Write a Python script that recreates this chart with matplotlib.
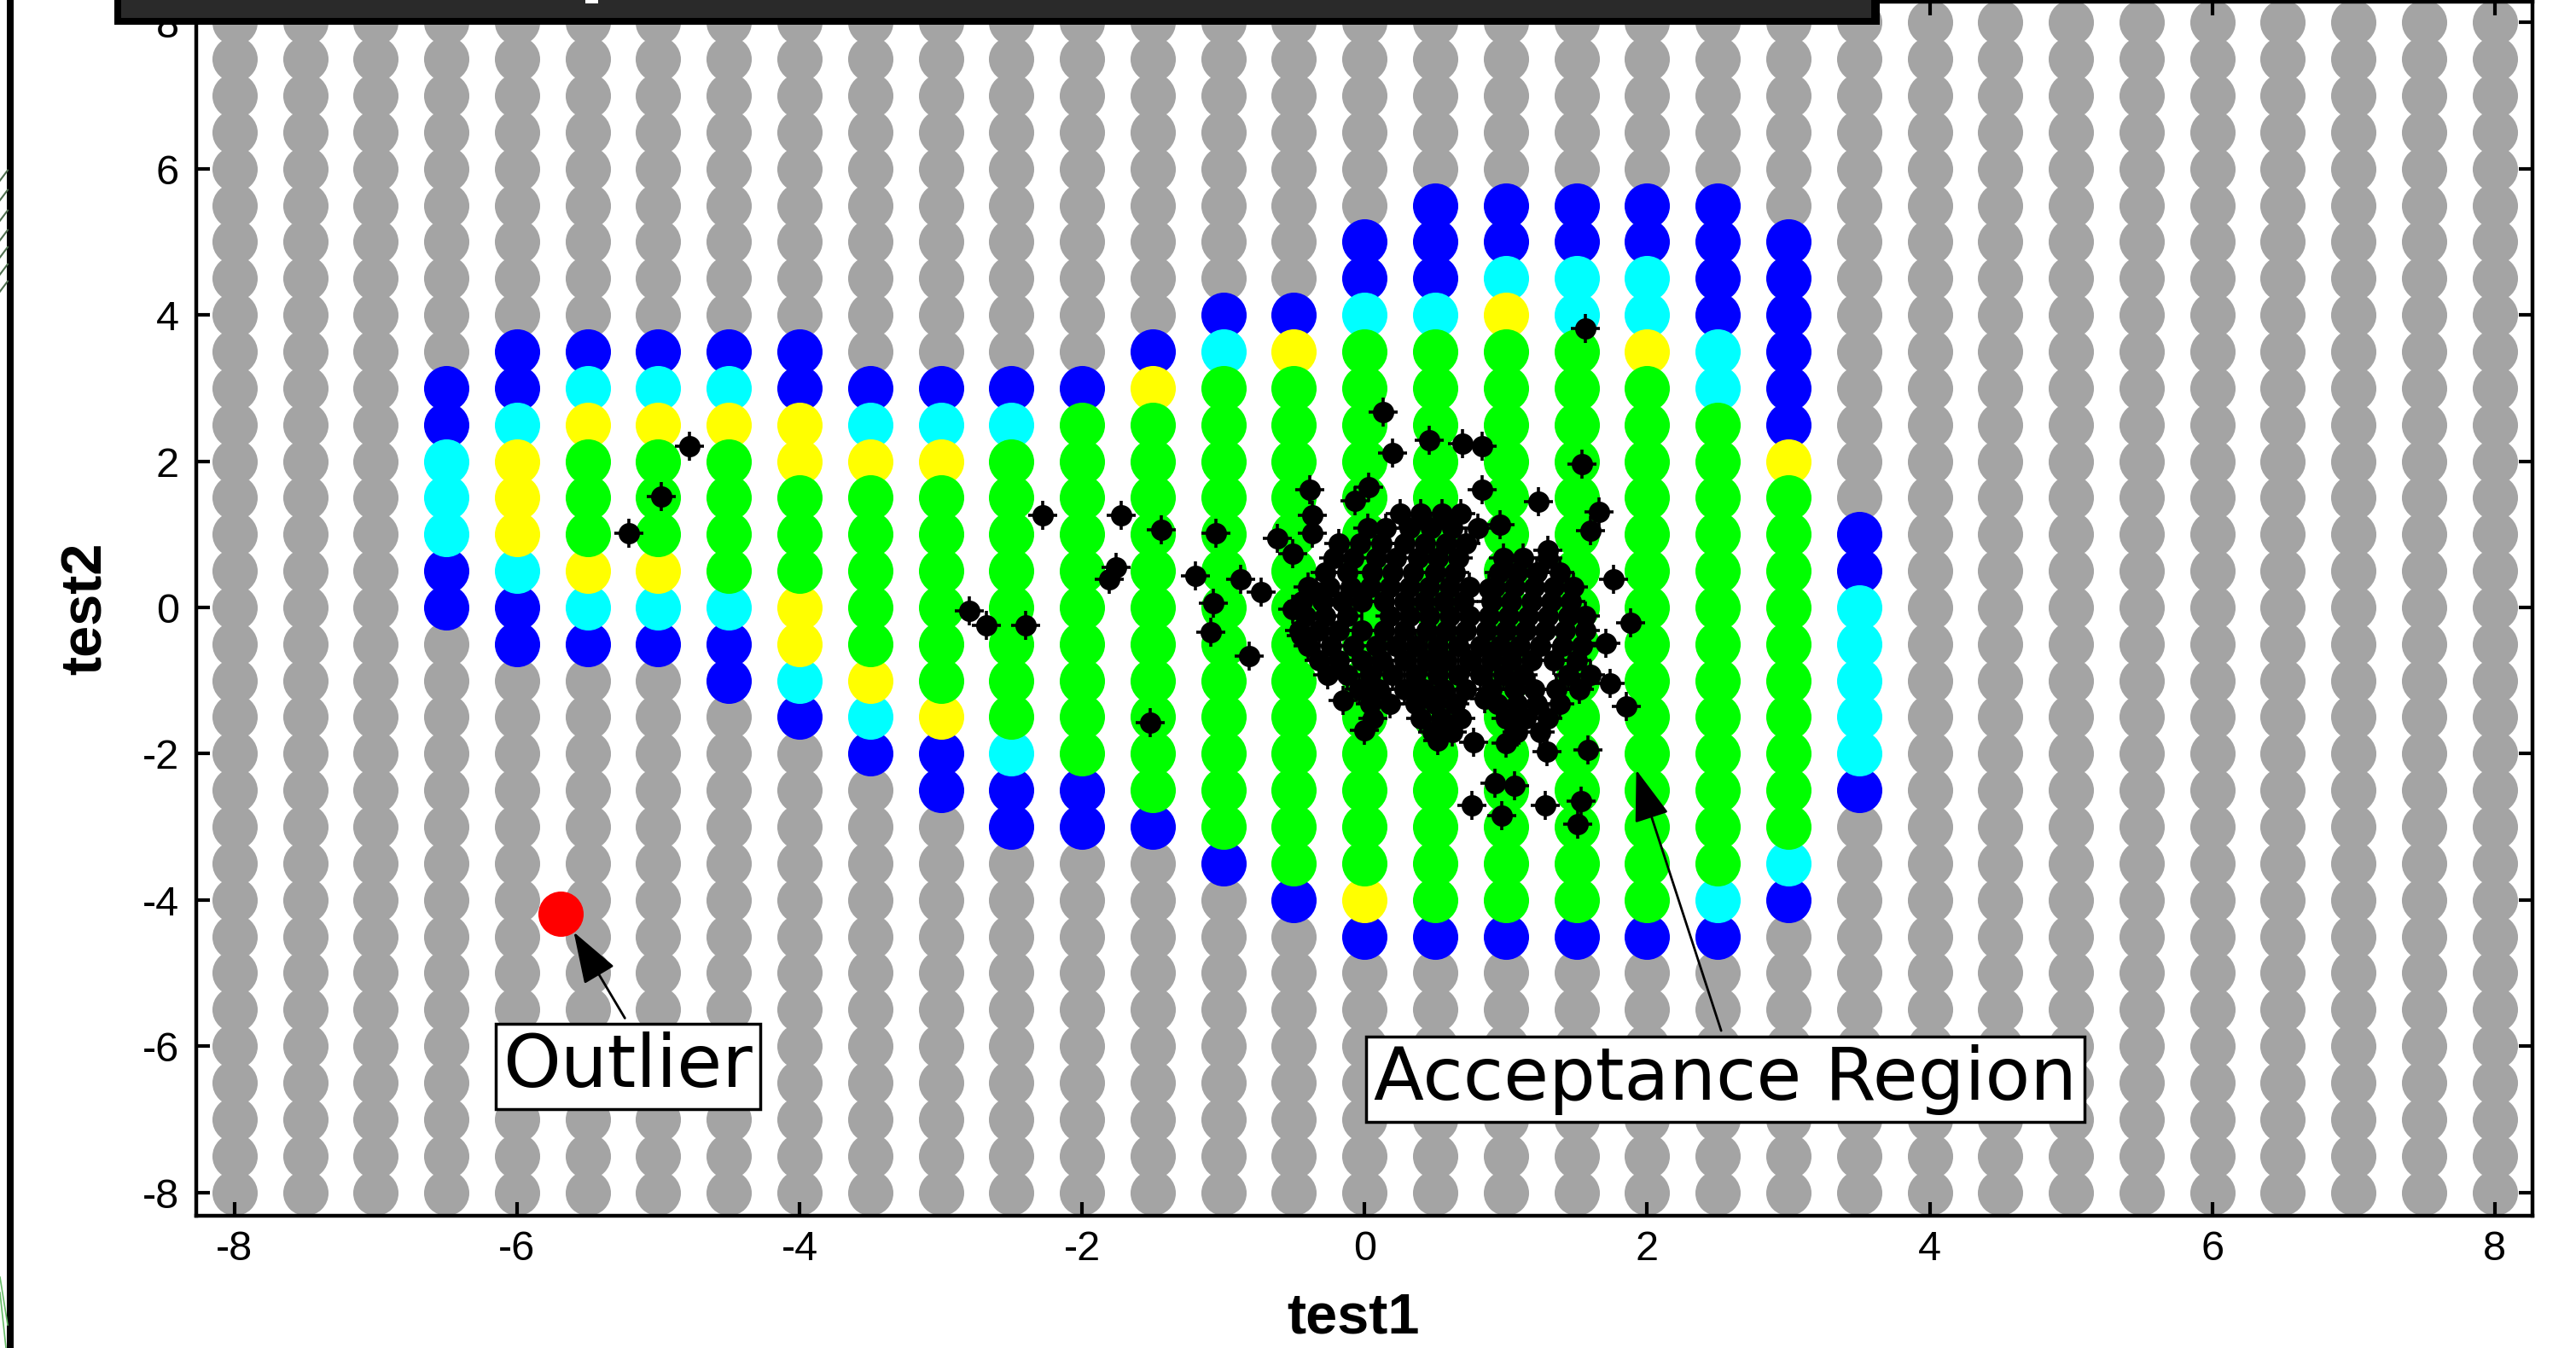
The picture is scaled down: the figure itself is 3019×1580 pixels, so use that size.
import numpy as np
import matplotlib.pyplot as plt
from matplotlib.patches import Rectangle
from matplotlib.lines import Line2D

plt.rcParams['font.family'] = ['Liberation Sans', 'DejaVu Sans']
plt.rcParams['axes.unicode_minus'] = False

# evaluation grid (test1 x test2)
grid_x = [-8.0, -7.5, -7.0, -6.5, -6.0, -5.5, -5.0, -4.5, -4.0, -3.5, -3.0, -2.5, -2.0, -1.5, -1.0, -0.5,
          0.0, 0.5, 1.0, 1.5, 2.0, 2.5, 3.0, 3.5, 4.0, 4.5, 5.0, 5.5, 6.0, 6.5, 7.0, 7.5, 8.0]
grid_y = [-8.0, -7.5, -7.0, -6.5, -6.0, -5.5, -5.0, -4.5, -4.0, -3.5, -3.0, -2.5, -2.0, -1.5, -1.0, -0.5,
          0.0, 0.5, 1.0, 1.5, 2.0, 2.5, 3.0, 3.5, 4.0, 4.5, 5.0, 5.5, 6.0, 6.5, 7.0, 7.5, 8.0]

# classified columns: x, top y, runs of classes going down in steps of 0.5
# B = blue, C = cyan, Y = yellow, G = green
col_x = [-6.5, -6.0, -5.5, -5.0, -4.5, -4.0, -3.5, -3.0, -2.5, -2.0, -1.5,
         -1.0, -0.5, 0.0, 0.5, 1.0, 1.5, 2.0, 2.5, 3.0, 3.5]
col_top = [3.0, 3.5, 3.5, 3.5, 3.5, 3.5, 3.0, 3.0, 3.0, 3.0, 3.5,
           4.0, 4.0, 5.0, 5.5, 5.5, 5.5, 5.5, 5.5, 5.0, 1.0]
col_runs = [
    [('B', 2), ('C', 3), ('B', 2)],
    [('B', 2), ('C', 1), ('Y', 3), ('C', 1), ('B', 2)],
    [('B', 1), ('C', 1), ('Y', 1), ('G', 3), ('Y', 1), ('C', 1), ('B', 1)],
    [('B', 1), ('C', 1), ('Y', 1), ('G', 3), ('Y', 1), ('C', 1), ('B', 1)],
    [('B', 1), ('C', 1), ('Y', 1), ('G', 4), ('C', 1), ('B', 2)],
    [('B', 2), ('Y', 2), ('G', 3), ('Y', 2), ('C', 1), ('B', 1)],
    [('B', 1), ('C', 1), ('Y', 1), ('G', 5), ('Y', 1), ('C', 1), ('B', 1)],
    [('B', 1), ('C', 1), ('Y', 1), ('G', 6), ('Y', 1), ('B', 2)],
    [('B', 1), ('C', 1), ('G', 8), ('C', 1), ('B', 2)],
    [('B', 1), ('G', 10), ('B', 2)],
    [('B', 1), ('Y', 1), ('G', 11), ('B', 1)],
    [('B', 1), ('C', 1), ('G', 13), ('B', 1)],
    [('B', 1), ('Y', 1), ('G', 14), ('B', 1)],
    [('B', 2), ('C', 1), ('G', 15), ('Y', 1), ('B', 1)],
    [('B', 3), ('C', 1), ('G', 16), ('B', 1)],
    [('B', 2), ('C', 1), ('Y', 1), ('G', 16), ('B', 1)],
    [('B', 2), ('C', 2), ('G', 16), ('B', 1)],
    [('B', 2), ('C', 2), ('Y', 1), ('G', 15), ('B', 1)],
    [('B', 4), ('C', 2), ('G', 13), ('C', 1), ('B', 1)],
    [('B', 6), ('Y', 1), ('G', 10), ('C', 1), ('B', 1)],
    [('B', 2), ('C', 5), ('B', 1)],
]
class_colors = {'B': '#0000ff', 'C': '#00ffff', 'Y': '#ffff00', 'G': '#00ff00'}

# training samples (black stars): scattered ones
star_pts = [(-5.21, 1.02), (-4.98, 1.52), (-4.78, 2.20),
            (-2.80, -0.05), (-2.68, -0.25), (-2.40, -0.25), (-2.28, 1.26),
            (-1.81, 0.39), (-1.76, 0.55), (-1.72, 1.26), (-1.44, 1.06), (-1.52, -1.58),
            (-1.20, 0.43), (-1.05, 1.02), (-1.07, 0.06), (-1.09, -0.34), (-0.88, 0.39),
            (-0.82, -0.67), (-0.73, 0.21), (-0.62, 0.94), (-0.51, 0.73), (-0.51, -0.02),
            (-0.45, -0.39), (-0.34, 0.21), (-0.39, 1.61), (-0.37, 1.26), (-0.37, 1.02),
            (-0.07, 1.46), (0.03, 1.64), (0.13, 2.67), (0.20, 2.11), (0.46, 2.29),
            (0.69, 2.24), (0.83, 2.21), (1.54, 1.96), (1.56, 3.81), (0.83, 1.61),
            (1.23, 1.45), (1.66, 1.31), (1.60, 1.05), (0.96, 1.13), (1.30, 0.78), (0.88, 0.26),
            (1.76, 0.39), (1.88, -0.21), (1.71, -0.49), (1.74, -1.04), (1.85, -1.35), (1.58, -1.95),
            (-0.15, -1.27), (0.0, -1.68), (0.52, -1.82), (0.77, -1.84), (1.00, -1.86),
            (1.29, -1.97), (0.85, -1.25), (0.92, -2.40), (1.06, -2.44), (0.76, -2.71),
            (0.97, -2.85), (1.28, -2.71), (1.53, -2.65), (1.51, -2.96)]

# dense core of the samples, row by row
core_y = [1.28, 1.08, 0.88, 0.68, 0.48, 0.28, 0.08, -0.12, -0.32, -0.52, -0.72, -0.92, -1.12, -1.32, -1.52, -1.70]
core_x = [
    [0.25, 0.40, 0.55, 0.68],
    [0.02, 0.15, 0.32, 0.47, 0.62, 0.80],
    [-0.18, -0.03, 0.12, 0.28, 0.43, 0.58, 0.72],
    [-0.22, -0.08, 0.08, 0.22, 0.38, 0.52, 0.66, 0.98, 1.12, 1.30],
    [-0.28, -0.12, 0.05, 0.20, 0.34, 0.50, 0.64, 0.95, 1.08, 1.22, 1.38],
    [-0.40, -0.25, -0.10, 0.04, 0.18, 0.32, 0.46, 0.60, 0.74, 0.92, 1.06, 1.20, 1.34, 1.48],
    [-0.44, -0.30, -0.16, -0.02, 0.14, 0.28, 0.42, 0.56, 0.70, 0.90, 1.04, 1.18, 1.32, 1.46],
    [-0.42, -0.28, -0.12, 0.18, 0.32, 0.46, 0.60, 0.74, 0.88, 1.02, 1.16, 1.30, 1.44, 1.56],
    [-0.46, -0.32, -0.18, -0.02, 0.14, 0.28, 0.44, 0.58, 0.72, 0.86, 1.00, 1.14, 1.28, 1.42, 1.56],
    [-0.40, -0.24, -0.08, 0.08, 0.22, 0.36, 0.52, 0.66, 0.82, 0.96, 1.10, 1.24, 1.40, 1.54],
    [-0.32, -0.18, -0.02, 0.12, 0.28, 0.44, 0.58, 0.74, 0.90, 1.04, 1.18, 1.34, 1.50],
    [-0.26, -0.12, 0.04, 0.20, 0.36, 0.52, 0.66, 0.82, 0.98, 1.12, 1.44, 1.60],
    [-0.04, 0.10, 0.28, 0.42, 0.56, 0.72, 0.90, 1.06, 1.20, 1.36, 1.52],
    [0.04, 0.18, 0.36, 0.50, 0.64, 0.94, 1.08, 1.22, 1.38],
    [0.06, 0.40, 0.54, 0.68, 1.00, 1.14, 1.30],
    [0.48, 0.62, 1.08, 1.24],
]

outlier = (-5.69, -4.19)

xtick_vals = [-8, -6, -4, -2, 0, 2, 4, 6, 8]
xtick_labels = ['-8', '-6', '-4', '-2', '0', '2', '4', '6', '8']
ytick_vals = [-8, -6, -4, -2, 0, 2, 4, 6, 8]
ytick_labels = ['-8', '-6', '-4', '-2', '0', '2', '4', '6', '8']

W, H = 3019, 1580
fig = plt.figure(figsize=(30.195, 15.805), dpi=100)
ax = fig.add_axes([230 / W, 1 - 1425 / H, 2738 / W, 1423 / H])

# sort grid points into classes
pts = {k: ([], []) for k in 'BCYG'}
taken = set()
for x, top, runs in zip(col_x, col_top, col_runs):
    y = top
    for code, n in runs:
        for _ in range(n):
            pts[code][0].append(x)
            pts[code][1].append(y)
            taken.add((x, y))
            y -= 0.5

gx, gy = [], []
for x in grid_x:
    for y in grid_y:
        if (x, y) not in taken:
            gx.append(x)
            gy.append(y)

ms = 38.2
ax.plot(gx, gy, 'o', ms=ms, color='#a4a4a4', mec='none', zorder=1)
for code in 'BCYG':
    ax.plot(pts[code][0], pts[code][1], 'o', ms=ms, color=class_colors[code], mec='none', zorder=1.2)

ax.plot(outlier[0], outlier[1], 'o', ms=ms, color='#ff0000', mec='none', zorder=1.3)

sx = [p[0] for p in star_pts]
sy = [p[1] for p in star_pts]
for yy, row in zip(core_y, core_x):
    sx.extend(row)
    sy.extend([yy] * len(row))
ax.plot(sx, sy, 'o', ms=18, color='black', mec='none', zorder=1.5)
ax.plot(sx, sy, '+', ms=24, color='black', mew=2.6, zorder=1.5)

# annotations
txt_kw = dict(family='DejaVu Sans', fontsize=62, ha='center', va='center', zorder=4,
              bbox=dict(boxstyle='square,pad=0.1', fc='white', ec='black', lw=2.5))
ax.text(-5.216, -6.28, 'Outlier', **txt_kw)
ax.text(2.553, -6.456, 'Acceptance Region', **txt_kw)

arr = dict(arrowstyle='-|>,head_length=0.38,head_width=0.13', mutation_scale=100,
           lw=2, color='black', shrinkA=0, shrinkB=0)
ax.annotate('', xy=(-5.598, -4.44), xytext=(-5.236, -5.618), arrowprops=arr, zorder=3)
ax.annotate('', xy=(1.923, -2.223), xytext=(2.524, -5.789), arrowprops=arr, zorder=3)

ax.set_xlim(-8.27, 8.27)
ax.set_ylim(-8.32, 8.29)
ax.set_xticks(xtick_vals)
ax.set_xticklabels(xtick_labels)
ax.set_yticks(ytick_vals)
ax.set_yticklabels(ytick_labels)
ax.tick_params(direction='in', length=11.5, width=3, top=True, right=True, labelsize=35)
ax.tick_params(axis='x', pad=12)
ax.tick_params(axis='y', pad=14.4)
for s in ax.spines.values():
    s.set_linewidth(3.2)

ax.set_xlabel('test1', fontsize=48, fontweight='bold')
ax.xaxis.set_label_coords(0.495, -0.0963)
ax.xaxis.label.set_va('baseline')
ax.set_ylabel('test2', fontsize=48, fontweight='bold')
ax.yaxis.set_label_coords(-0.0467, 0.5)
ax.yaxis.label.set_va('center')
ax.yaxis.label.set_ha('center')


def px_rect(x0, y0, x1, y1, color, z=20):
    # rectangle given in image pixels (origin top left)
    fig.add_artist(Rectangle((x0 / W, 1 - y1 / H), (x1 - x0) / W, (y1 - y0) / H,
                             transform=fig.transFigure, fc=color, ec='none', zorder=z))


# cut off title box at the top
px_rect(134, -20, 2203, 29, 'black')
px_rect(142, -20, 2193, 21, '#2a2a2a', 21)
px_rect(686, -5, 701, 4, 'white', 22)

# frame line and decoration on the left border
px_rect(8, 0, 16, H, 'black')
for yy in [200, 223, 247, 270, 290, 310, 330]:
    fig.add_artist(Line2D([0, 9 / W], [1 - (yy + 12) / H, 1 - yy / H],
                          transform=fig.transFigure, color='#4f6f4f', lw=1.5, zorder=20))
for x0, y0, x1, y1 in [(0, 1497, 9, 1553), (0, 1515, 7, 1580)]:
    fig.add_artist(Line2D([x0 / W, x1 / W], [1 - y0 / H, 1 - y1 / H],
                          transform=fig.transFigure, color='#66bb66', lw=1.2, zorder=20))

plt.savefig('out.png', dpi=100, facecolor='white')
